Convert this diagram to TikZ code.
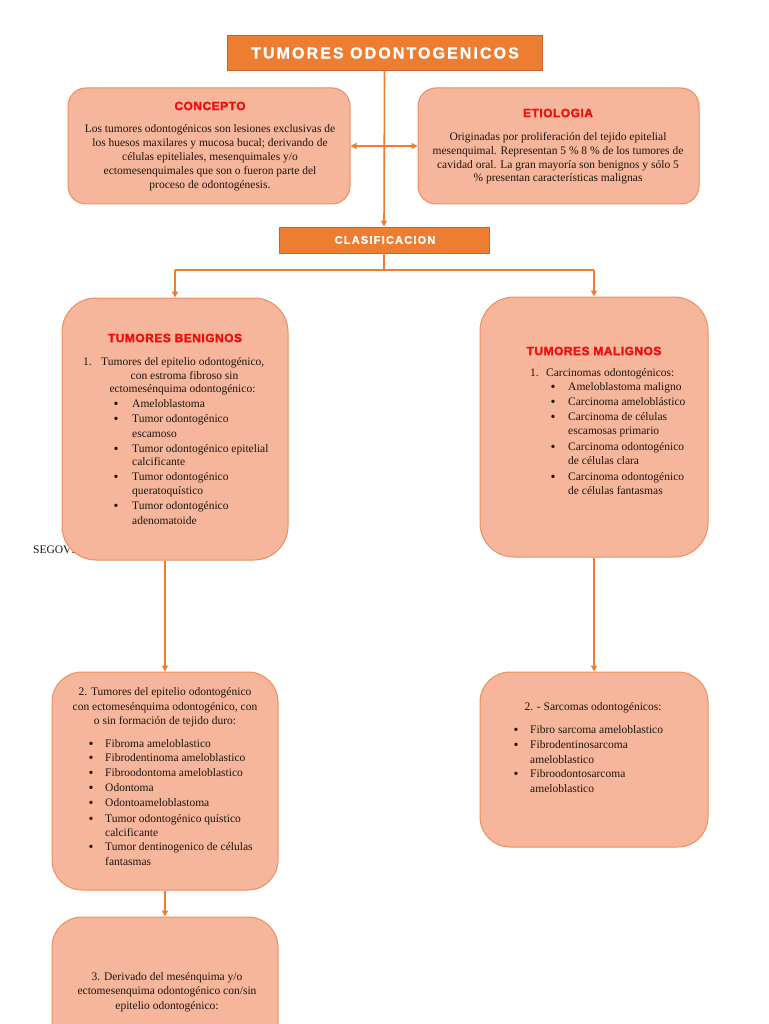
\documentclass[tikz,border=0pt]{standalone}
\usepackage{fontspec}
\setmainfont{Liberation Serif}
\newfontfamily\tfont[LetterSpace=13,FakeBold=1]{Liberation Sans}
\newfontfamily\rfont[LetterSpace=4,FakeBold=2]{Liberation Sans}
\newfontfamily\cfont[LetterSpace=11,FakeBold=1.2]{Liberation Sans}
\usetikzlibrary{arrows.meta}
\definecolor{orangeA}{HTML}{ED7D31}
\definecolor{orangeB}{HTML}{C8652A}
\definecolor{peach}{HTML}{F5B69B}
\definecolor{peachB}{HTML}{EE8E5E}
\definecolor{redT}{HTML}{F20D0D}
\definecolor{txtc}{HTML}{1E1410}
\tikzset{
  bx/.style={draw=peachB, line width=1pt, fill=peach, rounded corners=18pt, inner sep=0pt},
  hdr/.style={draw=orangeB, fill=orangeA, line width=0.8pt, inner sep=0pt},
  ln/.style={font=\fontsize{11.5}{13}\selectfont, text=txtc, inner sep=0pt, anchor=mid},
  lnw/.style={ln, anchor=mid west},
  blt/.style={font=\fontsize{14}{14}\selectfont, text=txtc, inner sep=0pt, anchor=center},
  rt/.style={font=\rfont\bfseries\fontsize{12}{14}\selectfont, text=redT, inner sep=0pt},
  conn/.style={draw=orangeA, line width=1.6pt},
  arr/.style={-{Triangle[length=6pt,width=6pt]}},
  darr/.style={{Triangle[length=6pt,width=6pt]}-{Triangle[length=6pt,width=6pt]}}
}
\begin{document}
\begin{tikzpicture}[x=1pt,y=-1pt]
\useasboundingbox (0,0) rectangle (768,1024);
\fill[white] (0,0) rectangle (768,1024);
% stray text behind box
\node[ln, anchor=mid west] (seg) at (33,551) {SEGOVIA};
% boxes
\node[hdr, minimum width=315pt, minimum height=35pt] (title) at (384.5,52.5) {};
\node[bx, minimum width=282pt, minimum height=116pt] (concepto) at (209,146) {};
\node[bx, minimum width=281pt, minimum height=116pt] (etiologia) at (558.5,146) {};
\node[hdr, minimum width=210pt, minimum height=26pt] (clas) at (384,240) {};
\node[bx, rounded corners=34pt, minimum width=226pt, minimum height=262pt] (ben) at (175,429) {};
\node[bx, rounded corners=34pt, minimum width=228pt, minimum height=260pt] (mal) at (594,427) {};
\node[bx, rounded corners=30pt, minimum width=226pt, minimum height=218pt] (b2l) at (165,781) {};
\node[bx, rounded corners=30pt, minimum width=228pt, minimum height=175pt] (b2r) at (594,759.5) {};
\node[bx, rounded corners=30pt, minimum width=226pt, minimum height=146pt] (b3l) at (165,990) {};
% connectors
\coordinate (split) at (384,270);
\draw[conn, arr] (title.south) -- (clas.north);
\draw[conn, darr] (concepto.east) -- (etiologia.west);
\draw[conn] (clas.south) -- (split);
\draw[conn] (ben.north |- split) -- (mal.north |- split);
\draw[conn, arr] (ben.north |- split) -- (ben.north);
\draw[conn, arr] (mal.north |- split) -- (mal.north);
\draw[conn, arr] (b2l.north |- ben.south) -- (b2l.north);
\draw[conn, arr] (b2l.south) -- (b3l.north);
\draw[conn, arr] (mal.south) -- (b2r.north);
% header texts
\node[inner sep=0pt, text=white, font=\tfont\bfseries\fontsize{16}{18}\selectfont] (titletxt) at (385,53) {TUMORES ODONTOGENICOS};
\node[inner sep=0pt, text=white, font=\cfont\bfseries\fontsize{11}{13}\selectfont] (clastxt) at (385,240) {CLASIFICACION};
\node[rt] (ctit) at (210,106) {CONCEPTO};
\node[rt] (etit) at (558,113) {ETIOLOGIA};
\node[rt] (btit) at (175,338) {TUMORES BENIGNOS};
\node[rt] (mtit) at (594,351) {TUMORES MALIGNOS};
% concepto
\foreach \n/\y/\lbl in {1/130/{Los tumores odontogénicos son lesiones exclusivas de},
  2/144/{los huesos maxilares y mucosa bucal; derivando de},
  3/158/{células epiteliales, mesenquimales y/o},
  4/172/{ectomesenquimales que son o fueron parte del},
  5/186/{proceso de odontogénesis.}}
  \node[ln] (c\n) at (210,\y) {\lbl};
% etiologia
\foreach \n/\y/\lbl in {1/138/{Originadas por proliferación del tejido epitelial},
  2/152/{mesenquimal. Representan 5 \% 8 \% de los tumores de},
  3/166/{cavidad oral. La gran mayoría son benignos y sólo 5},
  4/179/{\% presentan características malignas}}
  \node[ln] (e\n) at (558,\y) {\lbl};
% benignos
\node[lnw] (bn) at (83,363) {1.};
\node[lnw] (b1) at (101,363) {Tumores del epitelio odontogénico,};
\node[ln] (b2) at (184.5,377) {con estroma fibroso sin};
\node[ln] (b3) at (182.5,390) {ectomesénquima odontogénico:};
\foreach \n/\y/\lbl in {1/405/{Ameloblastoma}, 2/420/{Tumor odontogénico}, 3/435/{escamoso},
  4/450/{Tumor odontogénico epitelial}, 5/463/{calcificante}, 6/478/{Tumor odontogénico},
  7/492/{queratoquístico}, 8/507/{Tumor odontogénico}, 9/522/{adenomatoide}}
  \node[lnw] (bi\n) at (132,\y) {\lbl};
\foreach \n/\y in {1/405, 2/420, 3/450, 4/478, 5/507}
  \node[blt] (bb\n) at (116,\y) {\textbullet};
% malignos
\node[lnw] (mn) at (530,374) {1.};
\node[lnw] (m1) at (546,374) {Carcinomas odontogénicos:};
\foreach \n/\y/\lbl in {1/388/{Ameloblastoma maligno}, 2/403/{Carcinoma ameloblástico},
  3/418/{Carcinoma de células}, 4/432/{escamosas primario}, 5/448/{Carcinoma odontogénico},
  6/462/{de células clara}, 7/478/{Carcinoma odontogénico}, 8/492/{de células fantasmas}}
  \node[lnw] (mi\n) at (568,\y) {\lbl};
\foreach \n/\y in {1/388, 2/403, 3/418, 4/448, 5/478}
  \node[blt] (mb\n) at (553,\y) {\textbullet};
% box 2 left
\foreach \n/\y/\lbl in {1/693/{2. Tumores del epitelio odontogénico},
  2/708/{con ectomesénquima odontogénico, con},
  3/722/{o sin formación de tejido duro:}}
  \node[ln] (l2h\n) at (165,\y) {\lbl};
\foreach \n/\y/\lbl in {1/745/{Fibroma ameloblastico}, 2/759/{Fibrodentinoma ameloblastico},
  3/774/{Fibroodontoma ameloblastico}, 4/789/{Odontoma}, 5/804/{Odontoameloblastoma},
  6/820/{Tumor odontogénico quístico}, 7/834/{calcificante},
  8/848/{Tumor dentinogenico de células}, 9/863/{fantasmas}}
  \node[lnw] (l2i\n) at (105,\y) {\lbl};
\foreach \n/\y in {1/745, 2/759, 3/774, 4/789, 5/804, 6/820, 7/848}
  \node[blt] (l2b\n) at (91,\y) {\textbullet};
% box 2 right
\node[ln] (r2h) at (593,708) {2. - Sarcomas odontogénicos:};
\foreach \n/\y/\lbl in {1/731/{Fibro sarcoma ameloblastico}, 2/746/{Fibrodentinosarcoma},
  3/761/{ameloblastico}, 4/775/{Fibroodontosarcoma}, 5/790/{ameloblastico}}
  \node[lnw] (r2i\n) at (530,\y) {\lbl};
\foreach \n/\y in {1/731, 2/746, 3/775}
  \node[blt] (r2b\n) at (516,\y) {\textbullet};
% box 3 left
\foreach \n/\y/\lbl in {1/978/{3. Derivado del mesénquima y/o},
  2/992/{ectomesenquima odontogénico con/sin},
  3/1007/{epitelio odontogénico:}}
  \node[ln] (l3\n) at (167,\y) {\lbl};
\end{tikzpicture}
\end{document}
